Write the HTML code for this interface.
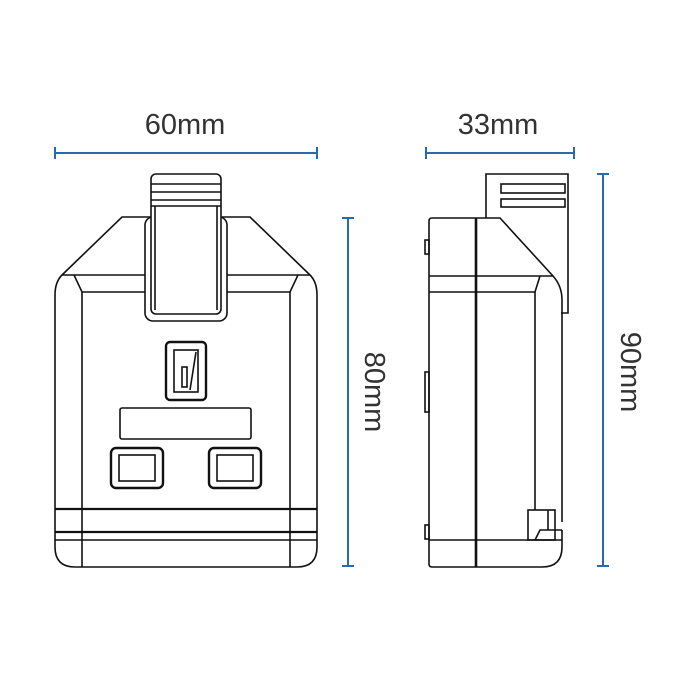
<!DOCTYPE html>
<html><head><meta charset="utf-8"><style>html,body{margin:0;padding:0;background:#fff}svg{display:block}</style></head>
<body>
<svg width="700" height="700" viewBox="0 0 700 700" xmlns="http://www.w3.org/2000/svg">
<g font-family="Liberation Sans, sans-serif" font-size="29" fill="#333" text-anchor="middle">
<text x="185" y="134">60mm</text>
<text x="498" y="134">33mm</text>
<text transform="translate(365,392) rotate(90)">80mm</text>
<text transform="translate(621,372) rotate(90)">90mm</text>
</g>
<g stroke="#2a6aa8" stroke-width="2" fill="none">
<line x1="55" y1="153" x2="317" y2="153"/><line x1="55" y1="147" x2="55" y2="159"/><line x1="317" y1="147" x2="317" y2="159"/>
<line x1="426" y1="153" x2="574" y2="153"/><line x1="426" y1="147" x2="426" y2="159"/><line x1="574" y1="147" x2="574" y2="159"/>
<line x1="348" y1="218" x2="348" y2="566"/><line x1="342" y1="218" x2="354" y2="218"/><line x1="342" y1="566" x2="354" y2="566"/>
<line x1="603" y1="174" x2="603" y2="566"/><line x1="597" y1="174" x2="609" y2="174"/><line x1="597" y1="566" x2="609" y2="566"/>
</g>
<g stroke="#111" stroke-width="1.6" fill="none">
<!-- front view -->
<path d="M122 217 H250 L310 275 Q317 282 317 295 V547 Q317 567 297 567 H75 Q55 567 55 547 V295 Q55 282 62 275 Z"/>
<line x1="62" y1="275" x2="310" y2="275"/>
<path d="M74 275 L82 292 H290 L298 275"/>
<line x1="82" y1="292" x2="82" y2="567"/><line x1="290" y1="292" x2="290" y2="567"/>
<line x1="55" y1="509" x2="317" y2="509" stroke-width="2.2"/>
<line x1="55" y1="532" x2="317" y2="532" stroke-width="2.2"/>
<line x1="55" y1="540" x2="317" y2="540"/>
<rect x="145" y="217" width="82" height="104" rx="8" fill="#fff"/>
<rect x="151" y="174" width="70" height="140" rx="5" fill="#fff"/>
<line x1="151" y1="184" x2="221" y2="184"/><line x1="151" y1="192" x2="221" y2="192"/>
<line x1="151" y1="200" x2="221" y2="200"/><line x1="151" y1="206" x2="221" y2="206"/>
<line x1="155" y1="206" x2="155" y2="310"/><line x1="217" y1="206" x2="217" y2="310"/>
<rect x="166" y="342" width="40" height="58" rx="4" stroke-width="2.4"/>
<rect x="174" y="350" width="24" height="42"/>
<rect x="182" y="367" width="5" height="20"/><line x1="190" y1="390" x2="196" y2="352"/>
<rect x="120" y="408" width="131" height="31" rx="2"/>
<rect x="111" y="448" width="52" height="40" rx="5" stroke-width="2.4"/><rect x="119" y="455" width="36" height="26"/>
<rect x="209" y="448" width="52" height="40" rx="5" stroke-width="2.4"/><rect x="217" y="455" width="36" height="26"/>
<!-- side view -->
<path d="M486 218 V174 H568 V313 H561"/>
<rect x="501" y="184" width="64" height="9"/><rect x="501" y="199" width="64" height="8"/>
<path d="M562 522 V300 Q562 286 553 276 L500 218 H432 Q429 218 429 221 V564 Q429 567 432 567 H542 Q562 567 562 547 V530"/>
<line x1="476" y1="218" x2="476" y2="567" stroke-width="2.6"/>
<line x1="429" y1="276" x2="553" y2="276"/>
<path d="M429 292 H535 L540 276"/>
<line x1="535" y1="292" x2="535" y2="510"/>
<rect x="528" y="510" width="27" height="30" fill="#fff"/>
<line x1="548" y1="510" x2="548" y2="530"/>
<line x1="429" y1="540" x2="562" y2="540"/>
<path d="M535 540 L540 530 H562"/>
<rect x="425" y="240" width="4" height="14"/><rect x="425" y="372" width="4" height="40"/><rect x="425" y="525" width="4" height="14"/>
</g>
</svg>
</body></html>
